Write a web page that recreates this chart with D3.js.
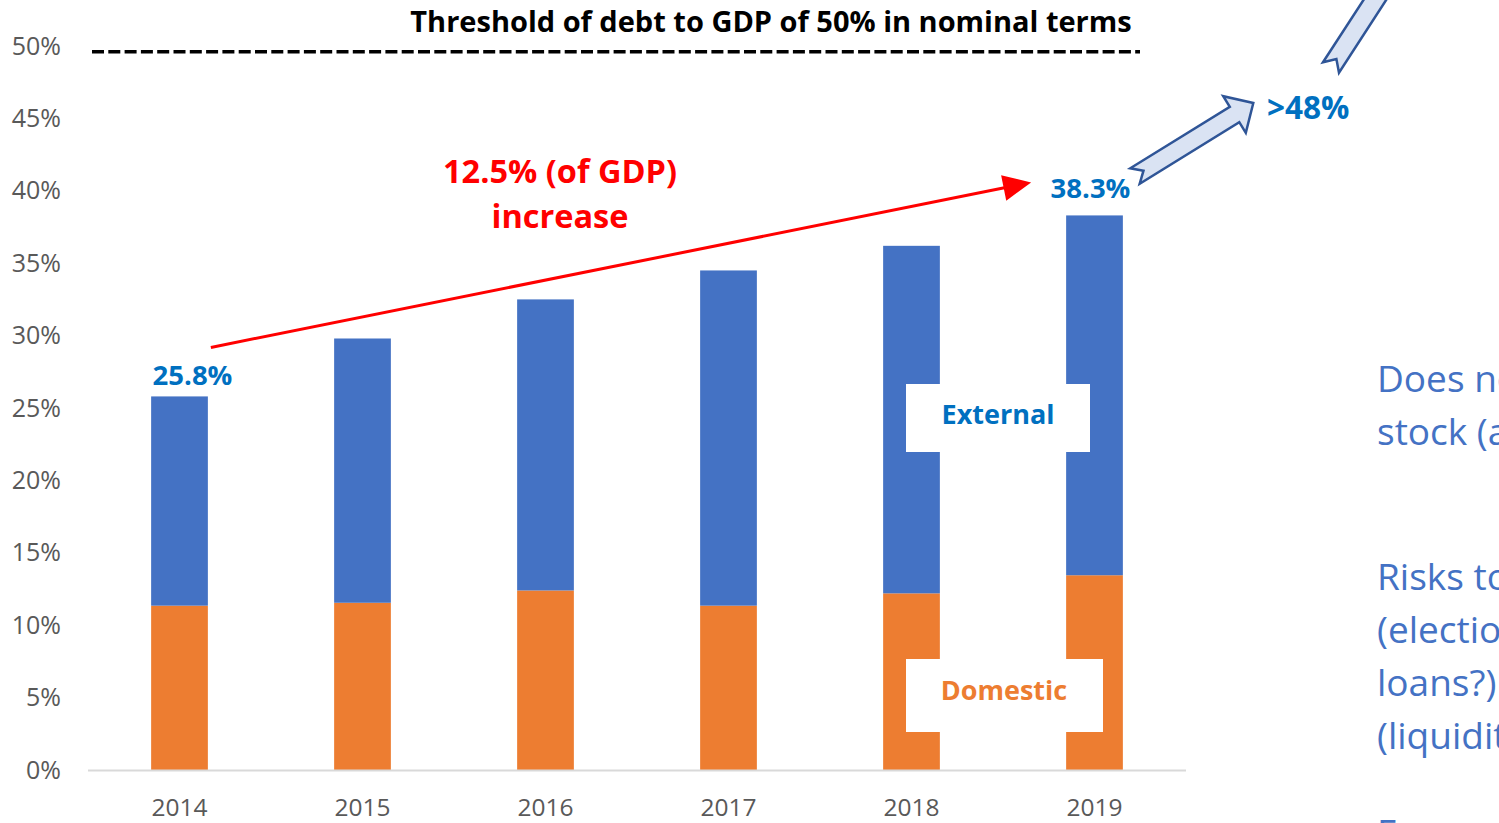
<!DOCTYPE html>
<html>
<head>
<meta charset="utf-8">
<script src="https://cdn.jsdelivr.net/npm/d3@7"></script>
<style>
  html, body { margin: 0; padding: 0; background: #fff; overflow: hidden; }
  svg { display: block; font-family: "Open Sans", "Noto Sans", sans-serif; }
</style>
</head>
<body>
<svg id="chart" width="1499" height="823"></svg>
<script>
// Debt-to-GDP by year, split into domestic and external components (% of GDP)
const years = ["2014", "2015", "2016", "2017", "2018", "2019"];
const domestic = [11.35, 11.55, 12.4, 11.35, 12.2, 13.45];
const external = [14.45, 18.25, 20.1, 23.15, 24.0, 24.85];
const yTicks = [0, 5, 10, 15, 20, 25, 30, 35, 40, 45, 50];
const threshold = 49.6;
const projection = 48;
const titleText = "Threshold of debt to GDP of 50% in nominal terms";
const sideLines = [
  "Does not include arrears",
  "stock (arrears)",
  "Risks to outlook",
  "(elections, new",
  "loans?) and SOEs",
  "(liquidity)",
  "Forecasts"
];

const totals = years.map((_, i) => domestic[i] + external[i]);

const svg = d3.select("#chart");
const x = d3.scaleBand().domain(years).range([88, 1186]).paddingInner(0.69).paddingOuter(0.345);
const y = d3.scaleLinear().domain([0, 50]).range([770, 46]);

const BLUE = "#4472c4", ORANGE = "#ed7d31", LABEL = "#0070c0";

// Stacked bars
const series = [
  { key: "domestic", color: ORANGE, lo: i => 0, hi: i => domestic[i] },
  { key: "external", color: BLUE, lo: i => domestic[i], hi: i => totals[i] }
];
series.forEach(s => {
  svg.append("g").selectAll("rect").data(years).join("rect")
    .attr("x", d => x(d))
    .attr("width", x.bandwidth())
    .attr("y", (d, i) => y(s.hi(i)))
    .attr("height", (d, i) => y(s.lo(i)) - y(s.hi(i)))
    .attr("fill", s.color);
});

// Axes
const yAxis = svg.append("g").attr("transform", "translate(70,0)")
  .call(d3.axisLeft(y).tickValues(yTicks).tickSize(0).tickPadding(9).tickFormat(d => d + "%"));
yAxis.select(".domain").remove();
yAxis.selectAll("text").attr("fill", "#595959").style("font-size", "25px").style("font-family", "'Open Sans'");

const xAxis = svg.append("g").attr("transform", `translate(0,${y(0)})`)
  .call(d3.axisBottom(x).tickSize(0).tickPadding(29));
xAxis.select(".domain").remove();
xAxis.selectAll("text").attr("fill", "#595959").style("font-size", "24.5px").style("font-family", "'Open Sans'");

svg.append("line")
  .attr("x1", 88).attr("x2", 1186)
  .attr("y1", y(0) + 0.5).attr("y2", y(0) + 0.5)
  .attr("stroke", "#d9d9d9").attr("stroke-width", 2);

// Threshold line and title
svg.append("line")
  .attr("x1", 92).attr("x2", 1140)
  .attr("y1", y(threshold)).attr("y2", y(threshold))
  .attr("stroke", "#000").attr("stroke-width", 3.5)
  .attr("stroke-dasharray", "12 4.3");

svg.append("text")
  .attr("x", 771).attr("y", 32)
  .attr("text-anchor", "middle")
  .attr("font-weight", 700).attr("font-size", 29)
  .attr("fill", "#000")
  .text(titleText);

// White label boxes with series names
const boxes = [
  { x0: 906, x1: 1090, y0: 384, y1: 452 },
  { x0: 906, x1: 1103, y0: 659, y1: 732 }
];
boxes.forEach(b => {
  svg.append("rect")
    .attr("x", b.x0).attr("y", b.y0)
    .attr("width", b.x1 - b.x0).attr("height", b.y1 - b.y0)
    .attr("fill", "#fff");
});
svg.append("text").attr("x", 998).attr("y", 424)
  .attr("text-anchor", "middle").attr("font-weight", 700).attr("font-size", 27)
  .attr("fill", LABEL).text("External");
svg.append("text").attr("x", 1004).attr("y", 700)
  .attr("text-anchor", "middle").attr("font-weight", 700).attr("font-size", 27)
  .attr("fill", ORANGE).text("Domestic");

// Total labels for first and last year
const fmt = d3.format(".1f");
const ends = [{ i: 0, dx: 13, dy: -11 }, { i: 5, dx: -4, dy: -17 }];
ends.forEach(e => {
  svg.append("text")
    .attr("x", x(years[e.i]) + x.bandwidth() / 2 + e.dx)
    .attr("y", y(totals[e.i]) + e.dy)
    .attr("text-anchor", "middle").attr("font-weight", 700).attr("font-size", 27.5)
    .attr("fill", LABEL)
    .text(fmt(totals[e.i]) + "%");
});

// Red trend arrow and annotation
const p0 = [x(years[0]) + x.bandwidth() + 3, y(totals[0]) - 49];
const p1 = [x(years[5]) - 35, y(totals[5]) - 33];
const ang = Math.atan2(p1[1] - p0[1], p1[0] - p0[0]);
const headL = 28, headW = 13;
const base = [p1[0] - headL * Math.cos(ang), p1[1] - headL * Math.sin(ang)];
svg.append("line")
  .attr("x1", p0[0]).attr("y1", p0[1])
  .attr("x2", base[0] + 2 * Math.cos(ang)).attr("y2", base[1] + 2 * Math.sin(ang))
  .attr("stroke", "#ff0000").attr("stroke-width", 3);
svg.append("polygon")
  .attr("points", [
    p1,
    [base[0] - headW * Math.sin(ang), base[1] + headW * Math.cos(ang)],
    [base[0] + headW * Math.sin(ang), base[1] - headW * Math.cos(ang)]
  ].map(p => p.join(",")).join(" "))
  .attr("fill", "#ff0000");

const increase = totals[5] - totals[0];
const ann = svg.append("text").attr("text-anchor", "middle")
  .attr("font-weight", 700).attr("font-size", 32.5).attr("fill", "#ff0000");
ann.append("tspan").attr("x", 560).attr("y", 183).text(fmt(increase) + "% (of GDP)");
ann.append("tspan").attr("x", 560).attr("y", 228).text("increase");

// Notched block arrows pointing to the projection
function blockArrow(tail, angleDeg, len, shaftW, headW, headLen, notch) {
  const a = angleDeg * Math.PI / 180;
  const c = Math.cos(a), s = Math.sin(a);
  const local = [
    [0, -shaftW / 2], [len - headLen, -shaftW / 2], [len - headLen, -headW / 2],
    [len, 0], [len - headLen, headW / 2], [len - headLen, shaftW / 2],
    [0, shaftW / 2], [notch, 0]
  ];
  const pts = local.map(([u, v]) => [tail[0] + u * c - v * s, tail[1] + u * s + v * c]);
  svg.append("polygon")
    .attr("points", pts.map(p => p.map(n => n.toFixed(1)).join(",")).join(" "))
    .attr("fill", "#dae3f3").attr("stroke", "#2f5597").attr("stroke-width", 2.5)
    .attr("stroke-linejoin", "miter");
}
blockArrow([1135, 176], -31.7, 139, 18, 43, 22, 10);
blockArrow([1331, 67.5], -57, 160, 19, 43, 22, 10);

svg.append("text").attr("x", 1267).attr("y", 119)
  .attr("font-weight", 700).attr("font-size", 31.5).attr("fill", LABEL)
  .text(">" + projection + "%");

// Side commentary (runs past the right edge)
const sideY = [392, 445, 590, 643, 696, 749, 846];
svg.append("g").selectAll("text").data(sideLines).join("text")
  .attr("x", 1377)
  .attr("y", (d, i) => sideY[i])
  .attr("font-size", 37)
  .attr("fill", "#4472c4")
  .text(d => d);
</script>
</body>
</html>
